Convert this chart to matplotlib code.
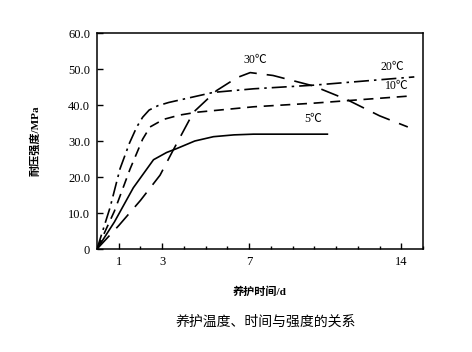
import matplotlib
matplotlib.use("Agg")
import matplotlib.pyplot as plt
import numpy as np

plt.rcParams["font.family"] = ["Liberation Serif", "Noto Sans CJK SC"]

# strength (MPa) vs curing time (d) for four curing temperatures
days_5 = [0, 0.8, 1.67, 2.6, 3.2, 3.67, 4.5, 5.36, 6.3, 7.2, 10.6]
mpa_5 = [0, 7.5, 17.0, 24.8, 26.8, 27.9, 30.0, 31.2, 31.7, 31.9, 31.9]

days_10 = [0, 0.8, 1.52, 2.1, 2.44, 3.06, 3.8, 4.6, 7.2, 9.95, 14.4]
mpa_10 = [0, 10.5, 22.2, 30.5, 33.9, 36.0, 37.2, 38.0, 39.5, 40.5, 42.5]

days_20 = [0, 0.6, 1.06, 1.5, 1.83, 2.1, 2.4, 2.8, 3.3, 5.35, 7.2, 9.95, 14.6]
mpa_20 = [0, 11.5, 22.3, 29.5, 33.9, 36.6, 38.6, 39.8, 40.7, 43.5, 44.5, 45.5, 47.8]

days_30 = [0, 1.0, 2.0, 2.9, 3.5, 4.44, 5.5, 6.44, 7.05, 8.1, 9.95, 11.5, 13.0, 14.3]
mpa_30 = [0, 6.5, 13.5, 20.5, 27.4, 38.0, 44.0, 47.6, 49.0, 48.2, 45.3, 41.5, 37.0, 33.9]

y_ticks = [0, 10, 20, 30, 40, 50, 60]
y_tick_labels = ["0", "10.0", "20.0", "30.0", "40.0", "50.0", "60.0"]
x_ticks = [1, 3, 7, 14]

fig = plt.figure(figsize=(4.72, 3.52), dpi=100)
ax = fig.add_axes([97 / 472, 103 / 352, 326 / 472, 216 / 352])

lw = 1.2
ax.plot(days_5, mpa_5, color="black", lw=lw, linestyle="-")
ax.plot(days_10, mpa_10, color="black", lw=lw, linestyle=(0, (6, 4)))
ax.plot(days_20, mpa_20, color="black", lw=lw, linestyle=(0, (9, 3, 1.5, 3)))
ax.plot(days_30, mpa_30, color="black", lw=lw, linestyle=(0, (11, 6)))

lab = dict(fontsize=8.5, color="black", ha="center", va="center")
ax.text(7.3, 52.5, "30℃", **lab)
ax.text(13.6, 50.6, "20℃", **lab)
ax.text(13.8, 45.3, "10℃", **lab)
ax.text(9.95, 36.2, "5℃", **lab)

ax.set_xlim(0, 15)
ax.set_ylim(0, 60)
ax.set_xticks(x_ticks)
ax.set_xticks(np.arange(0, 15.5, 1), minor=True)
ax.set_yticks(y_ticks)
ax.set_yticklabels(y_tick_labels)
ax.tick_params(axis="both", which="major", direction="in", length=4,
               labelsize=9, width=1, pad=5)
ax.tick_params(axis="x", which="minor", direction="in", length=2.5, width=1)
for s in ax.spines.values():
    s.set_linewidth(1.1)

ax.set_xlabel("养护时间/d", fontsize=8, fontweight="bold", labelpad=13)
ax.set_ylabel("耐压强度/MPa", fontsize=8, fontweight="bold", labelpad=20)

fig.text(266 / 472, 1 - 322 / 352, "养护温度、时间与强度的关系",
         fontsize=10, ha="center", va="center")

fig.savefig("out.png", dpi=100)
